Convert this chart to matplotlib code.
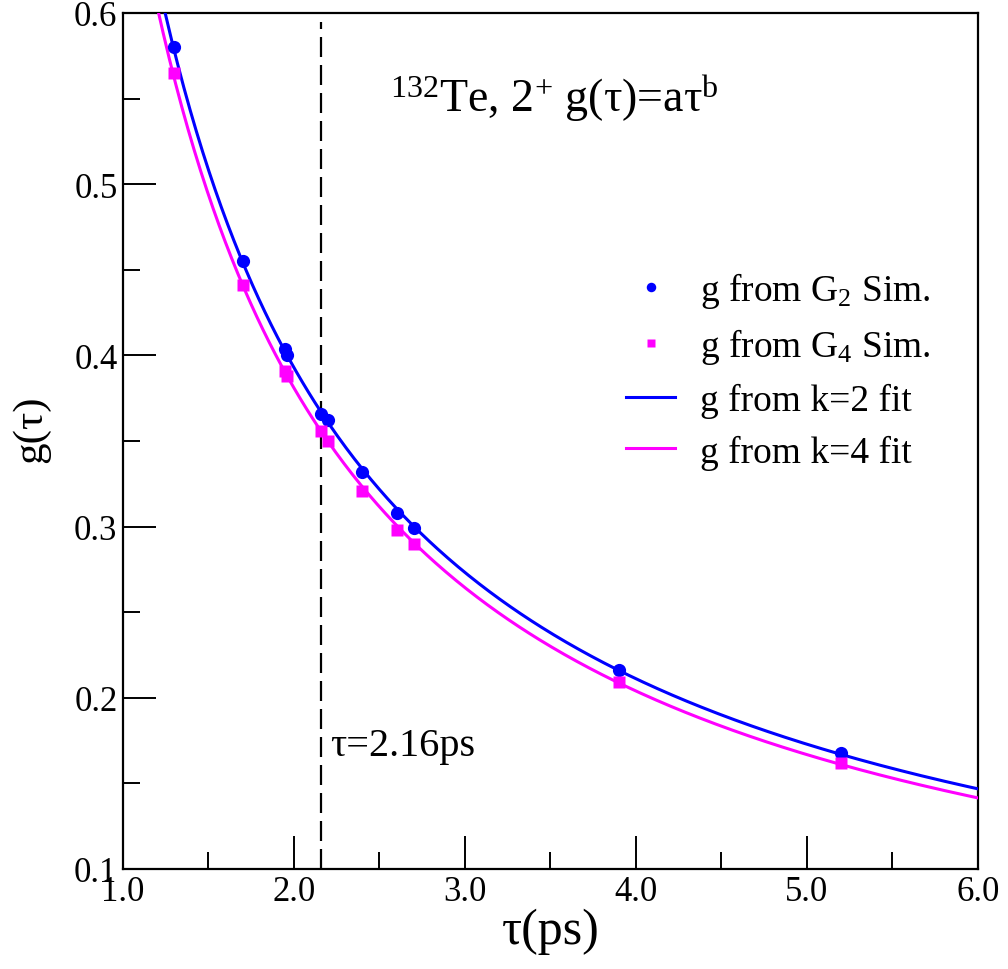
import numpy as np
import matplotlib
matplotlib.use("Agg")
import matplotlib.pyplot as plt

plt.rcParams['font.family'] = ['Liberation Serif', 'DejaVu Serif']
plt.rcParams['mathtext.fontset'] = 'custom'
plt.rcParams['mathtext.rm'] = 'Liberation Serif'
plt.rcParams['mathtext.it'] = 'Liberation Serif:italic'
plt.rcParams['mathtext.bf'] = 'Liberation Serif:bold'

# simulated g values, 132Te 2+ state
tau_g2 = [1.30, 1.70, 1.95, 1.96, 2.16, 2.20, 2.40, 2.60, 2.70, 3.90, 5.20]
g_g2 = [0.580, 0.455, 0.404, 0.400, 0.366, 0.362, 0.332, 0.308, 0.299, 0.216, 0.168]

tau_g4 = [1.30, 1.70, 1.95, 1.96, 2.16, 2.20, 2.40, 2.60, 2.70, 3.90, 5.20]
g_g4 = [0.565, 0.441, 0.391, 0.388, 0.356, 0.350, 0.321, 0.298, 0.290, 0.209, 0.162]

tau_mark = 2.16

# power law fits g = a*tau^b
b2, lna2 = np.polyfit(np.log(tau_g2), np.log(g_g2), 1)
b4, lna4 = np.polyfit(np.log(tau_g4), np.log(g_g4), 1)
tt = np.linspace(1.15, 6.0, 400)
fit2 = np.exp(lna2) * tt**b2
fit4 = np.exp(lna4) * tt**b4

fig = plt.figure(figsize=(10.08, 9.70), dpi=100)
ax = fig.add_axes([0.122, 0.1031, 0.848, 0.8825])

ax.plot(tt, fit2, color='#0000ff', lw=2.2, label='g from k=2 fit', zorder=3)
ax.plot(tt, fit4, color='#ff00ff', lw=2.2, label='g from k=4 fit', zorder=3)
ax.plot(tau_g2, g_g2, 'o', color='#0000ff', ms=9.5, mec='none', label=r'g from G$_2$ Sim.', zorder=4)
ax.plot(tau_g4, g_g4, 's', color='#ff00ff', ms=8, mec='none', label=r'g from G$_4$ Sim.', zorder=4)

ax.axvline(tau_mark, ymax=0.99, color='black', lw=1.6, dashes=(9, 3.6), zorder=2)

ax.text(2.56, 0.543, r'$^{\mathrm{132}}$Te, 2$^{\mathrm{+}}$ g(τ)=aτ$^{\mathrm{b}}$', fontsize=33)
ax.text(2.21, 0.172, 'τ=2.16ps', fontsize=29, va='center')

ax.set_xlim(1.0, 6.0)
ax.set_ylim(0.1, 0.6)
ax.set_xticks(np.arange(1.0, 6.01, 1.0))
ax.set_xticks(np.arange(1.5, 6.0, 1.0), minor=True)
ax.set_yticks(np.arange(0.1, 0.61, 0.1))
ax.set_yticks(np.arange(0.15, 0.6, 0.1), minor=True)
ax.xaxis.set_major_formatter(plt.FormatStrFormatter('%.1f'))
ax.yaxis.set_major_formatter(plt.FormatStrFormatter('%.1f'))
ax.tick_params(which='both', direction='in', width=1.4, labelsize=25, top=False, right=False)
ax.tick_params(which='major', length=24, pad=4)
ax.tick_params(which='minor', length=12)
for sp in ax.spines.values():
    sp.set_linewidth(1.6)

ax.set_xlabel('τ(ps)', fontsize=36, labelpad=0)
ax.set_ylabel('g(τ)', fontsize=31, labelpad=8)
ax.yaxis.set_label_coords(-0.085, 0.515)

h, l = ax.get_legend_handles_labels()
order = [2, 3, 0, 1]
ax.legend([h[i] for i in order], [l[i] for i in order], loc='upper left',
          bbox_to_anchor=(0.589, 0.70), frameon=False, fontsize=27,
          handlelength=1.3, handletextpad=0.65, labelspacing=0.44,
          borderpad=0, borderaxespad=0, markerscale=0.72)

fig.savefig('out.png', dpi=100)
